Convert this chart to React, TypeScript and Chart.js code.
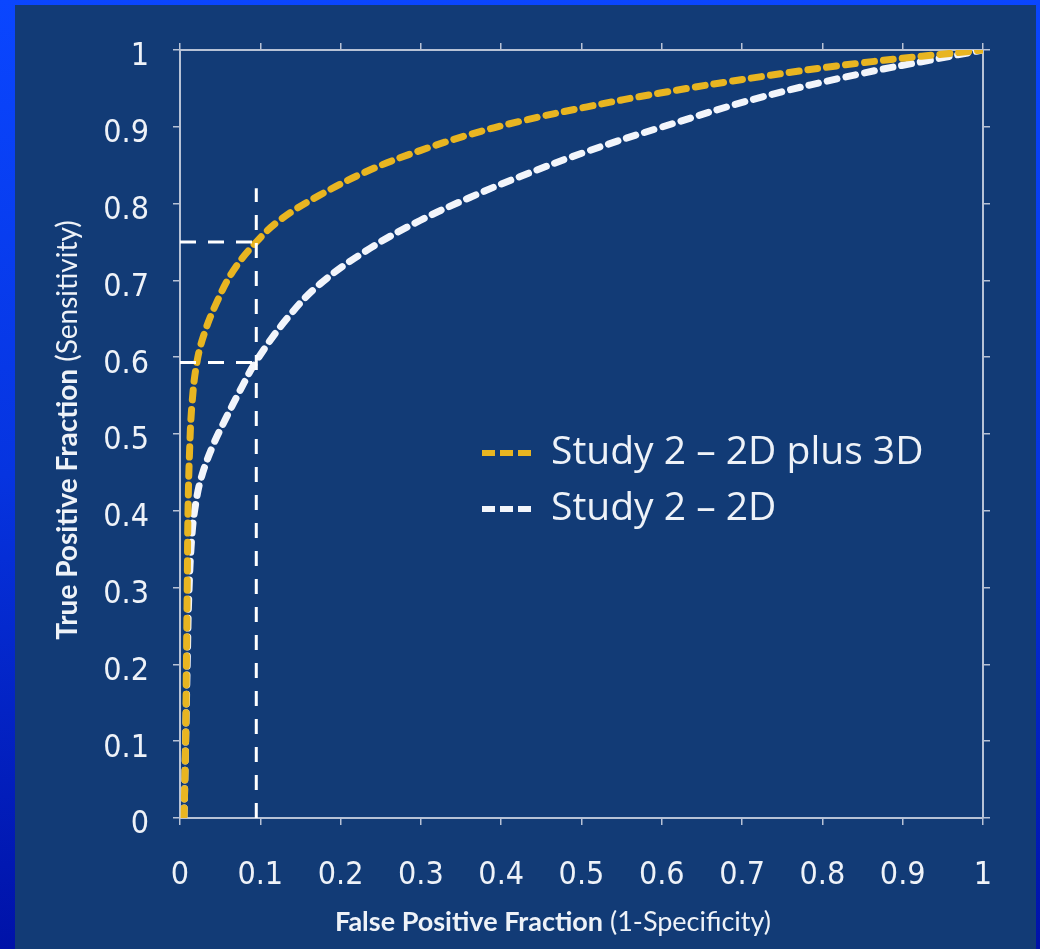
import React, { useEffect, useRef } from "react";
import { Chart, registerables } from "chart.js";

Chart.register(...registerables);

// ---- data ----
const tickValues = [0, 0.1, 0.2, 0.3, 0.4, 0.5, 0.6, 0.7, 0.8, 0.9, 1];

const seriesLabels = ["Study 2 \u2013 2D plus 3D", "Study 2 \u2013 2D"];
const seriesColors = ["#e8b521", "#f2f5fb"];

const yellowX = [0.005, 0.007, 0.008, 0.009, 0.010, 0.012, 0.015, 0.021, 0.030, 0.046, 0.066, 0.095, 0.125, 0.174, 0.237, 0.299, 0.361, 0.423, 0.507, 0.598, 0.722, 0.847, 1.0];
const yellowY = [0.0, 0.10, 0.20, 0.30, 0.40, 0.48, 0.54, 0.593, 0.630, 0.672, 0.712, 0.750, 0.779, 0.811, 0.844, 0.869, 0.890, 0.907, 0.926, 0.944, 0.965, 0.983, 1.0];

const whiteX = [0.005, 0.007, 0.009, 0.011, 0.015, 0.020, 0.027, 0.041, 0.056, 0.075, 0.095, 0.133, 0.174, 0.237, 0.299, 0.361, 0.423, 0.507, 0.598, 0.722, 0.847, 0.930, 1.0];
const whiteY = [0.0, 0.10, 0.20, 0.29, 0.37, 0.412, 0.445, 0.485, 0.518, 0.557, 0.595, 0.650, 0.695, 0.742, 0.778, 0.808, 0.835, 0.868, 0.899, 0.938, 0.969, 0.986, 1.0];

// reference (cut-off) lines
const refFpf = 0.095;
const refTop = 0.82;
const refSensYellow = 0.75;
const refSensWhite = 0.593;

const xTitleBold = "False Positive Fraction";
const xTitleNormal = " (1-Specificity)";
const yTitleBold = "True Positive Fraction";
const yTitleNormal = " (Sensitivity)";

const W = 1040;
const H = 949;
const AXIS = "#b7c2d6";
const TEXT = "#eef2f8";
const TICK_FONT = "'Liberation Sans Narrow', 'DejaVu Sans Condensed', 'Roboto Condensed', Roboto, sans-serif";
const TITLE_FONT = "Lato, 'Open Sans', sans-serif";
const LEGEND_FONT = "'Open Sans', Lato, sans-serif";

const toPts = (xs: number[], ys: number[]) => xs.map((x, i) => ({ x, y: ys[i] }));

const overlayPlugin = {
  id: "overlay",
  afterDraw(chart: any) {
    const ctx = chart.ctx as CanvasRenderingContext2D;
    ctx.save();
    ctx.fillStyle = TEXT;
    ctx.textBaseline = "middle";

    const drawMixed = (bold: string, normal: string, cx: number, cy: number, size: number) => {
      ctx.font = `bold ${size}px ${TITLE_FONT}`;
      const wb = ctx.measureText(bold).width;
      ctx.font = `${size}px ${TITLE_FONT}`;
      const wn = ctx.measureText(normal).width;
      const start = cx - (wb + wn) / 2;
      ctx.textAlign = "left";
      ctx.font = `bold ${size}px ${TITLE_FONT}`;
      ctx.fillText(bold, start, cy);
      ctx.font = `${size}px ${TITLE_FONT}`;
      ctx.fillText(normal, start + wb, cy);
    };
    drawMixed(xTitleBold, xTitleNormal, 553, 922, 27);
    ctx.save();
    ctx.translate(68, 430);
    ctx.rotate(-Math.PI / 2);
    drawMixed(yTitleBold, yTitleNormal, 0, 0, 28);
    ctx.restore();

    // legend (inside plot)
    const items = chart.data.datasets.filter((d: any) => d.isSeries);
    const rows = [453, 509];
    items.forEach((d: any, i: number) => {
      const y = rows[i];
      ctx.save();
      ctx.strokeStyle = d.borderColor;
      ctx.lineWidth = 6;
      ctx.setLineDash([13, 5]);
      ctx.beginPath();
      ctx.moveTo(482, y);
      ctx.lineTo(533, y);
      ctx.stroke();
      ctx.restore();
      ctx.fillStyle = TEXT;
      ctx.font = `39px ${LEGEND_FONT}`;
      ctx.textAlign = "left";
      ctx.fillText(d.label, 551, y);
    });
    ctx.restore();
  },
};

export default function App() {
  const ref = useRef<HTMLCanvasElement | null>(null);

  useEffect(() => {
    document.body.style.margin = "0";
    if (!ref.current) return;
    const tickCb = (v: any) => String(+Number(v).toFixed(1));
    const gridOpts = {
      display: true,
      drawOnChartArea: false,
      drawTicks: true,
      tickLength: 7,
      color: AXIS,
      lineWidth: 1.5,
    };
    const borderOpts = { display: true, color: AXIS, width: 2 };
    const setTicks = (s: any) => { s.ticks = tickValues.map((v) => ({ value: v })); };

    const curve = (i: number, xs: number[], ys: number[]) => ({
      label: seriesLabels[i],
      isSeries: true,
      data: toPts(xs, ys),
      showLine: true,
      borderColor: seriesColors[i],
      borderWidth: 7,
      borderDash: [10, 9],
      borderCapStyle: "round",
      tension: 0.4,
      pointRadius: 0,
    });

    const chart = new Chart(ref.current, {
      type: "scatter",
      data: {
        datasets: [
          {
            label: "ref-v",
            data: [{ x: refFpf, y: 0 }, { x: refFpf, y: refTop }],
            showLine: true,
            borderColor: "#ffffff",
            borderWidth: 3,
            borderDash: [15, 13],
            pointRadius: 0,
          },
          {
            label: "ref-h1",
            data: [{ x: 0, y: refSensYellow }, { x: refFpf, y: refSensYellow }],
            showLine: true,
            borderColor: "#ffffff",
            borderWidth: 3,
            borderDash: [16, 12],
            pointRadius: 0,
          },
          {
            label: "ref-h2",
            data: [{ x: 0, y: refSensWhite }, { x: refFpf, y: refSensWhite }],
            showLine: true,
            borderColor: "#ffffff",
            borderWidth: 3,
            borderDash: [16, 12],
            pointRadius: 0,
          },
          curve(0, yellowX, yellowY) as any,
          curve(1, whiteX, whiteY) as any,
        ],
      },
      options: {
        animation: false,
        responsive: false,
        maintainAspectRatio: false,
        layout: { padding: 0 },
        plugins: {
          legend: { display: false },
          tooltip: { enabled: false },
        },
        scales: {
          x: {
            type: "linear",
            position: "bottom",
            min: 0,
            max: 1,
            afterBuildTicks: setTicks,
            afterFit: (s: any) => { s.height = 131; },
            ticks: {
              callback: tickCb,
              color: TEXT,
              padding: 31,
              maxRotation: 0,
              autoSkip: false,
              font: { family: TICK_FONT, size: 32 },
            },
            grid: gridOpts,
            border: borderOpts,
          },
          y: {
            type: "linear",
            position: "left",
            min: 0,
            max: 1,
            afterBuildTicks: setTicks,
            afterFit: (s: any) => { s.width = 180; },
            ticks: {
              callback: tickCb,
              color: TEXT,
              padding: 24,
              labelOffset: 7,
              autoSkip: false,
              font: { family: TICK_FONT, size: 32 },
            },
            grid: gridOpts,
            border: borderOpts,
          },
          x2: {
            type: "linear",
            position: "top",
            min: 0,
            max: 1,
            afterBuildTicks: setTicks,
            afterFit: (s: any) => { s.height = 50; },
            ticks: { display: false },
            grid: gridOpts,
            border: borderOpts,
          },
          y2: {
            type: "linear",
            position: "right",
            min: 0,
            max: 1,
            afterBuildTicks: setTicks,
            afterFit: (s: any) => { s.width = 57; },
            ticks: { display: false },
            grid: gridOpts,
            border: borderOpts,
          },
        },
      } as any,
      plugins: [overlayPlugin],
    });
    return () => chart.destroy();
  }, []);

  return (
    <div
      style={{
        position: "absolute",
        left: 0,
        top: 0,
        width: W,
        height: H,
        background: "linear-gradient(180deg, #0a46ff 0%, #0634e0 50%, #0012a8 100%)",
        overflow: "hidden",
      }}
    >
      <div
        style={{
          position: "absolute",
          left: 15,
          top: 5,
          right: 4,
          bottom: 0,
          background: "#123b76",
        }}
      />
      <canvas
        ref={ref}
        width={W}
        height={H}
        style={{ position: "absolute", left: 0, top: 0, width: W, height: H }}
      />
    </div>
  );
}
